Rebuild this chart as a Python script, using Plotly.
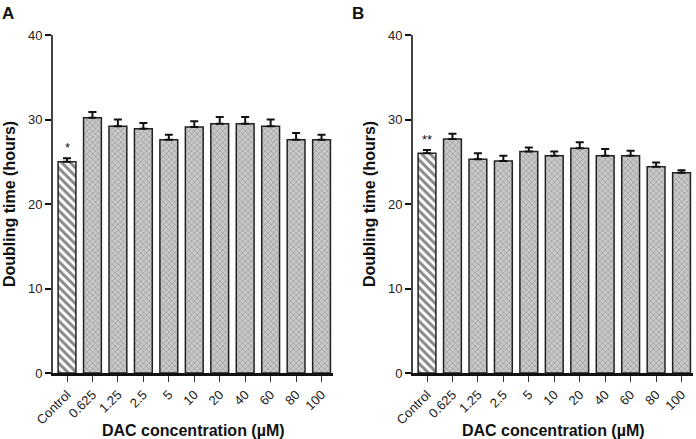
import plotly.graph_objects as go

categories = ["Control", "0.625", "1.25", "2.5", "5", "10", "20", "40", "60", "80", "100"]
values_a = [25.0, 30.2, 29.2, 28.9, 27.6, 29.1, 29.5, 29.5, 29.2, 27.6, 27.6]
errors_a = [0.4, 0.7, 0.8, 0.7, 0.6, 0.7, 0.8, 0.8, 0.8, 0.8, 0.6]
values_b = [26.0, 27.7, 25.3, 25.1, 26.2, 25.7, 26.6, 25.7, 25.7, 24.4, 23.7]
errors_b = [0.4, 0.6, 0.7, 0.6, 0.5, 0.5, 0.7, 0.8, 0.6, 0.5, 0.3]
signif_a = "*"
signif_b = "**"
y_ticks = [0, 10, 20, 30, 40]

FONT = "Liberation Sans, Arial, sans-serif"
W, H = 696, 439
T, B = 35, 66
PH = H - T - B

def pattern_props(n):
    shapes = ["\\"] + ["x"] * (n - 1)
    fg = ["#111111"] + ["#444444"] * (n - 1)
    bg = ["#ffffff"] + ["#c8c8c8"] * (n - 1)
    size = [6] + [4] * (n - 1)
    sol = [0.5] + [0.22] * (n - 1)
    return dict(shape=shapes, fgcolor=fg, bgcolor=bg, size=size, solidity=sol, fillmode="overlay")

fig = go.Figure()
for vals, errs, xa, ya in [(values_a, errors_a, "x", "y"), (values_b, errors_b, "x2", "y2")]:
    fig.add_trace(go.Bar(
        x=categories, y=vals, xaxis=xa, yaxis=ya, width=0.7,
        marker=dict(color="#c8c8c8", pattern=pattern_props(len(vals)),
                    line=dict(color="#222222", width=1.5)),
        error_y=dict(type="data", array=errs, arrayminus=[0] * len(errs), symmetric=False,
                     color="#111111", thickness=2, width=4),
        showlegend=False,
    ))

ax_common = dict(
    type="category", showline=True, linecolor="#111111", linewidth=3,
    ticks="outside", ticklen=6, tickwidth=1, tickcolor="#333333",
    tickangle=-45, tickfont=dict(family=FONT, size=13, color="#222222"),
    showgrid=False, zeroline=False, range=[-0.55, 10.45], automargin=False,
)
ay_common = dict(
    range=[0, 40], tickvals=y_ticks, showline=True, linecolor="#444444", linewidth=2,
    ticks="outside", ticklen=6, tickwidth=2, tickcolor="#111111",
    tickfont=dict(family=FONT, size=13, color="#222222"),
    showgrid=False, zeroline=False, automargin=False,
)

title_font = dict(family=FONT, size=16, color="#111111")
xt_y = -(430 - (H - B)) / PH
panel_y = 1 + (T - 2) / PH

fig.update_layout(
    width=W, height=H,
    margin=dict(l=0, r=0, t=T, b=B),
    paper_bgcolor="white", plot_bgcolor="white",
    xaxis=dict(domain=[53 / W, 333 / W], anchor="y", **ax_common),
    yaxis=dict(anchor="x", **ay_common),
    xaxis2=dict(domain=[413 / W, 693 / W], anchor="y2", **ax_common),
    yaxis2=dict(anchor="x2", **ay_common),
    annotations=[
        dict(text="<b>A</b>", x=0, y=panel_y, xref="paper", yref="paper", xanchor="left", yanchor="top",
             showarrow=False, font=dict(family=FONT, size=17, color="#111111")),
        dict(text="<b>B</b>", x=350 / W, y=panel_y, xref="paper", yref="paper", xanchor="left", yanchor="top",
             showarrow=False, font=dict(family=FONT, size=17, color="#111111")),
        dict(text="<b>DAC concentration (µM)</b>", x=193 / W, y=xt_y, xref="paper", yref="paper",
             xanchor="center", yanchor="middle", showarrow=False, font=title_font),
        dict(text="<b>DAC concentration (µM)</b>", x=553 / W, y=xt_y, xref="paper", yref="paper",
             xanchor="center", yanchor="middle", showarrow=False, font=title_font),
        dict(text="<b>Doubling time (hours)</b>", x=9 / W, y=0.5, xref="paper", yref="paper",
             xanchor="center", yanchor="middle", textangle=-90, showarrow=False, font=title_font),
        dict(text="<b>Doubling time (hours)</b>", x=369 / W, y=0.5, xref="paper", yref="paper",
             xanchor="center", yanchor="middle", textangle=-90, showarrow=False, font=title_font),
        dict(text=signif_a, x=categories[0], y=values_a[0] + errors_a[0], xref="x", yref="y",
             yanchor="bottom", yshift=1, showarrow=False, font=dict(family=FONT, size=13, color="#111111")),
        dict(text=signif_b, x=categories[0], y=values_b[0] + errors_b[0], xref="x2", yref="y2",
             yanchor="bottom", yshift=1, showarrow=False, font=dict(family=FONT, size=13, color="#111111")),
    ],
)

fig.write_html("out.html", config={"displayModeBar": False},
               post_script="document.body.style.margin='0';document.body.style.overflow='hidden';")
